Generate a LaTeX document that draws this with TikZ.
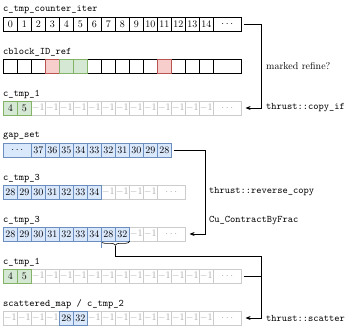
\documentclass[tikz,border=0pt]{standalone}
\usepackage{tikz}
\usepackage{xcolor}
\usetikzlibrary{arrows.meta,positioning,calc,decorations.pathreplacing}

\definecolor{bluline}{HTML}{6C8EBF}
\definecolor{blufill}{HTML}{DAE8FC}
\definecolor{grnline}{HTML}{82B366}
\definecolor{grnfill}{HTML}{D5E8D4}
\definecolor{redline}{HTML}{B85450}
\definecolor{redfill}{HTML}{F8CECC}
\definecolor{nilline}{HTML}{CCCCCC}
\definecolor{niltext}{HTML}{A8A8A8}

\begin{document}
\begin{tikzpicture}[
x=1pt, y=-1pt,
cell/.style={
draw,
line width=0.6pt,
minimum width=14pt,
minimum height=14pt,
inner sep=0pt,
anchor=west
},
wide/.style={cell,minimum width=28pt},
plain/.style={draw=black},
nil/.style={draw=nilline,text=niltext},
blu/.style={draw=bluline,fill=blufill},
grn/.style={draw=grnline,fill=grnfill},
rd/.style={draw=redline,fill=redfill},
rowname/.style={anchor=west,inner sep=0pt,font=\ttfamily},
note/.style={anchor=west,inner sep=0pt},
edge/.style={-{Stealth[length=5pt,width=4pt]},line width=0.6pt,shorten <=2pt,shorten >=4pt},
link/.style={line width=0.6pt,shorten <=2pt}
]
\useasboundingbox (0,0) rectangle (353,330);

% c_tmp_counter_iter
\node[rowname] (N1) at (3,10) {c\_tmp\_counter\_iter};
\foreach \i in {0,...,14}
  \node[cell,plain] (A\i) at ({3+14*\i},24) {\i};
\node[wide,plain] (A15) at (213,24) {$\cdots$};

% cblock_ID_ref
\node[rowname] (N2) at (3,52) {cblock\_ID\_ref};
\foreach \i in {0,...,14}
  \node[cell,plain] (B\i) at ({3+14*\i},66) {};
\node[wide,plain] (B15) at (213,66) {};
\foreach \i/\s in {3/rd,4/grn,5/grn,11/rd}
  \node[cell,\s] (B\i) at ({3+14*\i},66) {};

% c_tmp_1
\node[rowname] (N3) at (3,94) {c\_tmp\_1};
\foreach \i in {2,...,14}
  \node[cell,nil] (C\i) at ({3+14*\i},108) {$-1$};
\node[wide,nil] (C15) at (213,108) {$\cdots$};
\foreach \v [count=\i from 0] in {4,5}
  \node[cell,grn] (C\i) at ({3+14*\i},108) {\v};

% gap_set
\node[rowname] (N4) at (3,136) {gap\_set};
\node[wide,blu] (D0) at (3,150) {$\cdots$};
\foreach \v [count=\i from 1] in {37,36,...,28}
  \node[cell,blu] (D\i) at ({17+14*\i},150) {\v};

% c_tmp_3
\node[rowname] (N5) at (3,178) {c\_tmp\_3};
\foreach \i in {7,...,10}
  \node[cell,nil] (E\i) at ({3+14*\i},192) {$-1$};
\node[wide,nil] (E11) at (157,192) {$\cdots$};
\foreach \v [count=\i from 0] in {28,...,34}
  \node[cell,blu] (E\i) at ({3+14*\i},192) {\v};

% c_tmp_3 after contraction
\node[rowname] (N6) at (3,220) {c\_tmp\_3};
\foreach \i in {9,10}
  \node[cell,nil] (F\i) at ({3+14*\i},234) {$-1$};
\node[wide,nil] (F11) at (157,234) {$\cdots$};
\foreach \v [count=\i from 0] in {28,29,30,31,32,33,34,28,32}
  \node[cell,blu] (F\i) at ({3+14*\i},234) {\v};

% c_tmp_1 again
\node[rowname] (N7) at (3,262) {c\_tmp\_1};
\foreach \i in {2,...,14}
  \node[cell,nil] (G\i) at ({3+14*\i},276) {$-1$};
\node[wide,nil] (G15) at (213,276) {$\cdots$};
\foreach \v [count=\i from 0] in {4,5}
  \node[cell,grn] (G\i) at ({3+14*\i},276) {\v};

% scattered_map / c_tmp_2
\node[rowname] (N8) at (3,304) {scattered\_map / c\_tmp\_2};
\foreach \i in {0,...,3,6,7,...,14}
  \node[cell,nil] (H\i) at ({3+14*\i},318) {$-1$};
\node[wide,nil] (H15) at (213,318) {$\cdots$};
\foreach \v [count=\i from 4] in {28,32}
  \node[cell,blu] (H\i) at ({3+14*\i},318) {\v};

% brace and split mark
\draw[decorate,decoration={brace,mirror,amplitude=4pt},line width=0.6pt]
  (F7.south west) -- (F8.south east);
\draw[bluline,line width=0.6pt] (F6.south east) -- ++(0,7);
\coordinate (Tip) at ($(F7.south east)+(0,5)$);
\coordinate (K3) at (261,256);

% connectors
\draw[edge] (A15.east) -- ++(20,0) |- (C15.east);
\draw[edge] (D10.east) -- ++(34,0) |- (F11.east);
\draw[edge,shorten <=0pt] (Tip) |- (K3) |- (H15.east);
\draw[link] (G15.east) -- (G15.east -| K3);

% notes
\node[note] (L1) at (266,66) {marked refine?};
\node[note,font=\ttfamily] (L2) at (266,108) {thrust::copy\_if};
\node[note,font=\ttfamily] (L3) at (209,192) {thrust::reverse\_copy};
\node[note,font=\ttfamily] (L4) at (209,221) {Cu\_ContractByFrac};
\node[note,font=\ttfamily] (L5) at (266,318) {thrust::scatter};
\end{tikzpicture}
\end{document}
